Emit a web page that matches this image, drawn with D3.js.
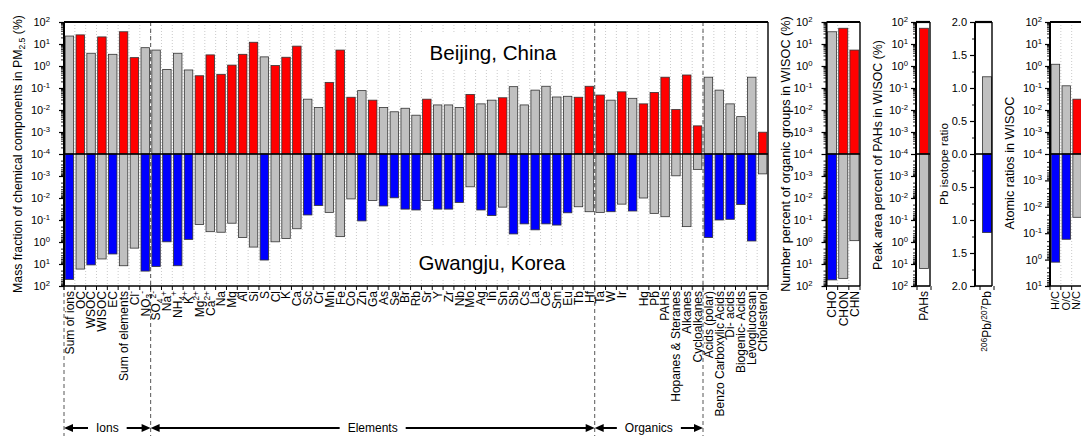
<!DOCTYPE html>
<html><head><meta charset="utf-8">
<script src="https://cdn.jsdelivr.net/npm/d3@7/dist/d3.min.js"></script>
<style>
body{margin:0;background:#fff;}
svg text{font-family:Arial,"Liberation Sans",Helvetica,sans-serif;fill:#000;}
</style></head><body>
<svg id="chart" width="1081" height="436"></svg>
<script>
// ---------------- DATA ----------------
const categories = ["Sum of ions","OC","WSOC","WISOC","EC","Sum of elements","Cl^{-}","NO_{3}^{-}","SO_{4}^{2-}","Na^{+}","NH_{4}^{+}","K^{+}","Mg^{2+}","Ca^{2+}","Na","Mg","Al","Si","S","Cl","K","Ca","Sc","Cr","Mn","Fe","Co","Zn","Ga","As","Se","Br","Rb","Sr","Y","Zr","Nb","Mo","Ag","In","Sn","Sb","Cs","La","Ce","Sm","Eu","Tb","Hf","Ta","W","Ir","","Hg","Pb","PAHs","Hopanes & Steranes","Alkanes","Cycloalkanes","Acids (polar)","Benzo Carboxylic Acids","Di- acids","Biogenic- Acids","Levoglucosan","Cholesterol"];
const beijing = [23,26,3.8,21,3.4,36,2.4,6.8,5.3,0.7,3.8,0.66,0.36,3.2,0.42,1.1,3.4,12,2.6,1.05,2.5,8,0.031,0.013,0.18,5.3,0.038,0.076,0.028,0.013,0.0083,0.012,0.0058,0.031,0.017,0.017,0.013,0.051,0.019,0.028,0.036,0.115,0.017,0.08,0.12,0.039,0.042,0.038,0.12,0.048,0.028,0.067,0.034,0.019,0.063,0.31,0.0105,0.39,0.0019,0.31,0.08,0.019,0.005,0.31,0.00098];
const gwangju = [50,17,11,5.9,3.5,12,1.9,21,13,0.98,12,0.76,0.16,0.34,0.36,0.14,0.63,1.7,6.6,0.98,0.7,0.25,0.059,0.022,0.045,0.57,0.011,0.11,0.013,0.023,0.0098,0.032,0.035,0.013,0.032,0.032,0.016,0.0031,0.035,0.063,0.026,0.43,0.15,0.28,0.15,0.17,0.047,0.025,0.042,0.045,0.042,0.019,0.039,0.01,0.05,0.071,0.00098,0.2,0.0005,0.63,0.1,0.093,0.02,0.9,0.0008];
const groupNames = ["Ions","Elements","Organics"];
const groupStart = [0,8,49];
const groupEnd = [8,49,59];

const orgGroupCats = ["CHO","CHON","CHN"];
const orgGroupBeijing = [36,52,5.3];
const orgGroupGwangju = [53,45,0.87];

const pahCats = ["PAHs"];
const pahBeijing = [52];
const pahGwangju = [16];

const pbCats = ["^{206}Pb/^{207}Pb"];
const pbBeijing = [1.17];
const pbGwangju = [1.19];

const ratioCats = ["H/C","O/C","N/C"];
const ratioBeijing = [1.2,0.126,0.031];
const ratioGwangju = [1.25,0.17,0.025];

const logTicksTop = [1e2,1e1,1e0,1e-1,1e-2,1e-3,1e-4];
const logTicksBottom = [1e-3,1e-2,1e-1,1e0,1e1,1e2];
const logTicksBottomRatio = [1e-3,1e-2,1e-1,1e0,1e1];
const pbTicksTop = [0,0.5,1,1.5,2];
const pbTicksBottom = [0.5,1,1.5,2];

// ---------------- LAYOUT ----------------
const svg = d3.select('#chart');
const W = 1081;
const Y0 = 22, YM = 154, Y1 = 286;
const RED = '#ff0000', BLUE = '#0000ff', GRAY = '#c0c0c0', EDGE = '#333';

function rich(sel, str, fs) {
  sel.text(null);
  const parts = str.split(/(\^\{[^}]*\}|_\{[^}]*\})/).filter(s => s.length);
  let cur = 0;
  parts.forEach(p => {
    let t = p, target = 0, size = fs;
    if (p.startsWith('^{')) { t = p.slice(2,-1); target = -0.38*fs; size = fs*0.7; }
    else if (p.startsWith('_{')) { t = p.slice(2,-1); target = 0.22*fs; size = fs*0.7; }
    const ts = sel.append('tspan').attr('font-size', size).text(t);
    if (target - cur !== 0) ts.attr('dy', target - cur);
    cur = target;
  });
}
function fitRich(sel, str, base, target) {
  rich(sel, str, base);
  const L = sel.node().getComputedTextLength();
  const fs = base*target/L;
  rich(sel, str, fs);
  return fs;
}
function expLabel(v){ return "10^{" + Math.round(Math.log10(v)) + "}"; }
function minorsFor(lo, hi){ const a=[]; for(let d=lo; d<hi; d++) for(let m=2;m<=9;m++) a.push(m*Math.pow(10,d)); return a; }

function panel(o) {
  const g = svg.append('g');
  const n = o.cats.length;
  const xs = d3.scaleBand().domain(d3.range(n)).range(o.band).paddingInner(o.pi).paddingOuter(o.pi/2);
  const bnd = i => o.band[0] + i*xs.step();
  if (o.grid) {
    for (let i=1;i<n;i++) g.append('line').attr('x1',bnd(i)).attr('x2',bnd(i)).attr('y1',Y0).attr('y2',Y1)
      .attr('stroke','#bdbdbd').attr('stroke-width',0.8).attr('stroke-dasharray','1,2');
  }
  if (o.before) o.before(g, xs, bnd);
  g.selectAll('rect.top').data(o.top).join('rect')
    .attr('x',(d,i)=>xs(i)).attr('width',xs.bandwidth())
    .attr('y',d=>o.yTop(d)).attr('height',d=>YM-o.yTop(d))
    .attr('fill',(d,i)=> d>=o.bot[i]?RED:GRAY).attr('stroke',EDGE).attr('stroke-width',0.8);
  g.selectAll('rect.bot').data(o.bot).join('rect')
    .attr('x',(d,i)=>xs(i)).attr('width',xs.bandwidth())
    .attr('y',YM).attr('height',d=>o.yBot(d)-YM)
    .attr('fill',(d,i)=> d>o.top[i]?BLUE:GRAY).attr('stroke',EDGE).attr('stroke-width',0.8);
  if (o.after) o.after(g, xs, bnd);
  g.append('line').attr('x1',o.x0).attr('x2',o.x1).attr('y1',YM).attr('y2',YM).attr('stroke','#000').attr('stroke-width',1.6);
  g.append('line').attr('x1',o.x0).attr('x2',o.x1).attr('y1',Y0).attr('y2',Y0).attr('stroke','#000').attr('stroke-width',2.2);
  g.append('line').attr('x1',o.x1).attr('x2',o.x1).attr('y1',Y0).attr('y2',Y1).attr('stroke','#000').attr('stroke-width',1.4);
  g.append('line').attr('x1',o.x0).attr('x2',o.x1).attr('y1',Y1).attr('y2',Y1).attr('stroke','#000').attr('stroke-width',1.6);
  g.append('line').attr('x1',o.x0).attr('x2',o.x0).attr('y1',Y0).attr('y2',Y1).attr('stroke','#000').attr('stroke-width',2);
  const tfs = 11;
  [[o.yTop,o.ticksTop,o.minTop],[o.yBot,o.ticksBot,o.minBot]].forEach(([sc,maj,mins])=>{
    const ga = g.append('g').attr('transform',`translate(${o.x0},0)`)
      .call(d3.axisLeft(sc).tickValues(maj).tickSize(5).tickSizeOuter(0).tickPadding(o.tpad).tickFormat(o.fmt));
    ga.select('.domain').remove();
    ga.selectAll('line').attr('stroke','#000').attr('stroke-width',1.2);
    ga.selectAll('text').attr('font-size',tfs).attr('font-family','Arial, "Liberation Sans", sans-serif')
      .each(function(d){ rich(d3.select(this), o.fmt(d), tfs); });
    const gm = g.append('g').attr('transform',`translate(${o.x0},0)`)
      .call(d3.axisLeft(sc).tickValues(mins).tickSize(3).tickSizeOuter(0).tickFormat(''));
    gm.select('.domain').remove();
    gm.selectAll('line').attr('stroke','#000').attr('stroke-width',0.9);
  });
  for (let i=0;i<=n;i++) g.append('line').attr('x1',bnd(i)).attr('x2',bnd(i)).attr('y1',Y1).attr('y2',Y1+4).attr('stroke','#000').attr('stroke-width',1);
  const lfs = o.lfs || 12;
  o.cats.forEach((c,i)=>{
    const cx = Math.min(xs(i)+xs.bandwidth()/2, W - 0.45*lfs);
    const t = g.append('text').attr('transform',`translate(${cx+0.36*lfs},${Y1+5}) rotate(-90)`)
      .attr('text-anchor','end').attr('font-size',lfs);
    rich(t, c, lfs);
  });
  const tt = g.append('text').attr('text-anchor','middle');
  const fs = fitRich(tt, o.title, 12, o.titleLen);
  tt.attr('transform',`translate(${o.titleX+0.36*fs},${o.titleY}) rotate(-90)`);
  return {xs,bnd};
}

const logTop = d3.scaleLog().domain([1e-4,1e2]).range([YM,Y0]);
const logBot = d3.scaleLog().domain([1e-4,1e2]).range([YM,Y1]);

// Main panel
panel({
  x0:64, x1:768, band:[64,768], pi:0.22, grid:true,
  cats:categories, top:beijing, bot:gwangju, yTop:logTop, yBot:logBot,
  ticksTop:logTicksTop, ticksBot:logTicksBottom, minTop:minorsFor(-4,2), minBot:minorsFor(-4,2),
  fmt:expLabel, tpad:9,
  title:"Mass fraction of chemical components in PM_{2.5} (%)", titleX:18, titleY:154, titleLen:278,
  before:(g,xs,bnd)=>{
    g.append('rect').attr('x',413).attr('y',34).attr('width',154).attr('height',34).attr('fill','#fff');
    g.append('rect').attr('x',411).attr('y',247).attr('width',162).attr('height',31).attr('fill','#fff');
    const t1 = g.append('text').attr('x',493).attr('y',60).attr('text-anchor','middle').attr('font-size',18).text("Beijing, China");
    t1.attr('font-size', 18*127/t1.node().getComputedTextLength());
    const t2 = g.append('text').attr('x',492).attr('y',270).attr('text-anchor','middle').attr('font-size',18).text("Gwangju, Korea");
    t2.attr('font-size', 18*147/t2.node().getComputedTextLength());
  },
  after:(g,xs,bnd)=>{
    const xsB = [bnd(groupStart[0])].concat(groupEnd.map(bnd));
    xsB.forEach((x,k)=>{
      g.append('line').attr('x1',x).attr('x2',x).attr('y1',k===0?Y1:Y0).attr('y2',436)
        .attr('stroke','#444').attr('stroke-width',0.9).attr('stroke-dasharray','4,3');
    });
    const ay = 428;
    groupNames.forEach((name,k)=>{
      const a = bnd(groupStart[k]), b = bnd(groupEnd[k]);
      const t = g.append('text').attr('x',(a+b)/2).attr('y',432).attr('text-anchor','middle').attr('font-size',12).text(name);
      const hw = t.node().getComputedTextLength()/2 + 8;
      const m = (a+b)/2;
      g.append('line').attr('x1',a+6).attr('x2',m-hw).attr('y1',ay).attr('y2',ay).attr('stroke','#000').attr('stroke-width',2);
      g.append('line').attr('x1',m+hw).attr('x2',b-6).attr('y1',ay).attr('y2',ay).attr('stroke','#000').attr('stroke-width',2);
      g.append('path').attr('d',`M${a},${ay}L${a+9},${ay-4}L${a+9},${ay+4}Z`).attr('fill','#000');
      g.append('path').attr('d',`M${b},${ay}L${b-9},${ay-4}L${b-9},${ay+4}Z`).attr('fill','#000');
    });
  }
});

// Organic groups panel
panel({
  x0:826.5, x1:860, band:[826.5,860], pi:0.19, grid:true,
  cats:orgGroupCats, top:orgGroupBeijing, bot:orgGroupGwangju, yTop:logTop, yBot:logBot,
  ticksTop:logTicksTop, ticksBot:logTicksBottom, minTop:minorsFor(-4,2), minBot:minorsFor(-4,2),
  fmt:expLabel, tpad:9,
  title:"Number percent of organic groups in WISOC (%)", titleX:785, titleY:154, titleLen:276
});

// PAHs panel
panel({
  x0:916, x1:930, band:[917,931], pi:0.36, grid:false,
  cats:pahCats, top:pahBeijing, bot:pahGwangju, yTop:logTop, yBot:logBot,
  ticksTop:logTicksTop, ticksBot:logTicksBottom, minTop:minorsFor(-4,2), minBot:minorsFor(-4,2),
  fmt:expLabel, tpad:3,
  title:"Peak area percent of PAHs in WISOC (%)", titleX:878, titleY:155, titleLen:230
});

// Pb isotope panel
const pbTop = d3.scaleLinear().domain([0,2]).range([YM,Y0]);
const pbBot = d3.scaleLinear().domain([0,2]).range([YM,Y1]);
panel({
  x0:975, x1:992, band:[980,994], pi:0.36, grid:false,
  cats:pbCats, top:pbBeijing, bot:pbGwangju, yTop:pbTop, yBot:pbBot,
  ticksTop:pbTicksTop, ticksBot:pbTicksBottom, minTop:[0.25,0.75,1.25,1.75], minBot:[0.25,0.75,1.25,1.75],
  fmt:d3.format('.1f'), tpad:3,
  title:"Pb isotope ratio", titleX:944, titleY:164, titleLen:82
});

// Atomic ratios panel
const rBot = d3.scaleLog().domain([1e-4,1e1]).range([YM,Y1]);
panel({
  x0:1050, x1:1083, band:[1050,1082.5], pi:0.22, grid:true, lfs:11,
  cats:ratioCats, top:ratioBeijing, bot:ratioGwangju, yTop:logTop, yBot:rBot,
  ticksTop:logTicksTop, ticksBot:logTicksBottomRatio, minTop:minorsFor(-4,2), minBot:minorsFor(-4,1),
  fmt:expLabel, tpad:3,
  title:"Atomic ratios in WISOC", titleX:1009, titleY:163, titleLen:133
});
</script>
</body></html>
